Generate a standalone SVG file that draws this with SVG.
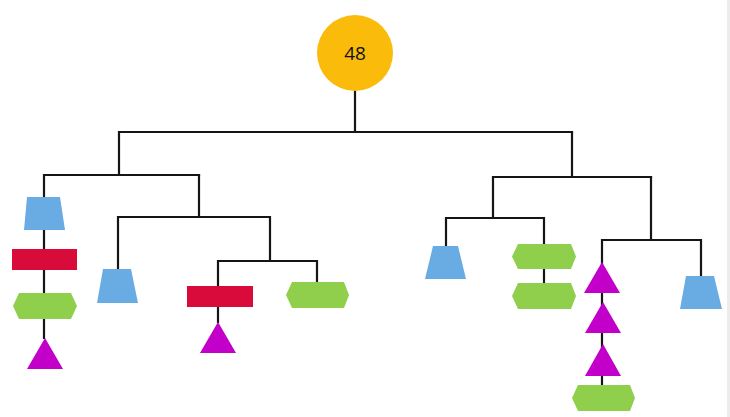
<svg xmlns="http://www.w3.org/2000/svg" width="730" height="417" viewBox="0 0 730 417">
<style>
.ln{fill:none;stroke:#151515;stroke-width:2.2;stroke-linejoin:miter;stroke-linecap:square}
.blue{fill:#69ace4}
.red{fill:#d80b3b}
.green{fill:#8fcf4b}
.mag{fill:#c300c9}
.lbl{font-family:"Open Sans","Liberation Sans",sans-serif;font-size:19px;fill:#111;text-anchor:middle}
</style>
<rect x="0" y="0" width="730" height="417" fill="#ffffff"/>
<rect x="727" y="0" width="3" height="417" fill="#ececec"/>
<g id="connectors">
<path class="ln" d="M355 90V132M119 132H572M119 132V175M44 175H199M44 175V338"/>
<path class="ln" d="M199 175V217M118 217H270M118 217V269M270 217V261M218 261H317M218 261V322M317 261V282"/>
<path class="ln" d="M572 132V177M493 177H651M493 177V218M446 218H544M446 218V246M544 218V284"/>
<path class="ln" d="M651 177V240M602 240H701M701 240V276M602 240V386"/>
</g>
<g id="root"><circle cx="355" cy="53" r="38" fill="#fbbb0b"/><text class="lbl" x="355" y="60">48</text></g>
<g id="n1"><polygon class="blue" points="27,197 60,197 65,230 24,230"/></g>
<g id="n2"><rect class="red" x="12" y="249" width="65" height="21"/></g>
<g id="n3"><polygon class="green" points="13,306 19,293 71,293 77,306 71,319 19,319"/></g>
<g id="n4"><polygon class="mag" points="45,338 63,369 27,369"/></g>
<g id="n5"><polygon class="blue" points="103,269 131,269 138,303 97,303"/></g>
<g id="n6"><rect class="red" x="187" y="286" width="66" height="21"/></g>
<g id="n7"><polygon class="mag" points="218,322 236,353 200,353"/></g>
<g id="n8"><polygon class="green" points="286,295 292,282 344,282 349,295 344,308 292,308"/></g>
<g id="n9"><polygon class="blue" points="433,246 458,246 466,279 425,279"/></g>
<g id="n10"><polygon class="green" points="512,256.5 518,244 571,244 576,256.5 571,269 518,269"/></g>
<g id="n11"><polygon class="green" points="512,296 518,283 571,283 576,296 571,309 518,309"/></g>
<g id="n12"><polygon class="mag" points="602,262 620,293 584,293"/></g>
<g id="n13"><polygon class="mag" points="603,302 621,333 585,333"/></g>
<g id="n14"><polygon class="mag" points="603,344 621,376 585,376"/></g>
<g id="n15"><polygon class="green" points="572,398 578,385 630,385 635,398 630,411 578,411"/></g>
<g id="n16"><polygon class="blue" points="686,276 714,276 722,309 680,309"/></g>
</svg>
